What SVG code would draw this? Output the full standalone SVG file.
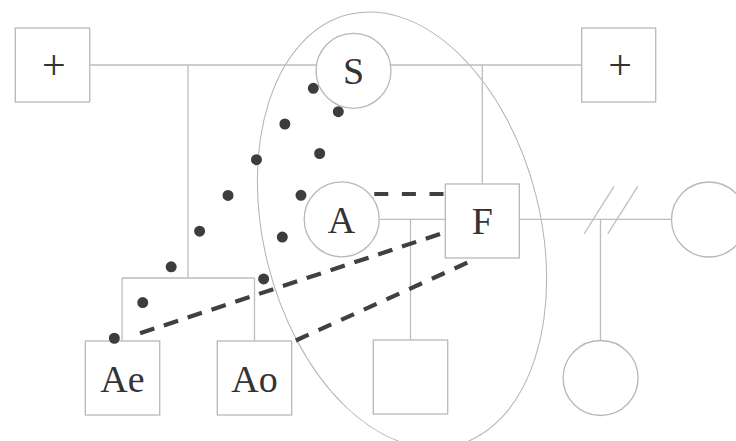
<svg xmlns="http://www.w3.org/2000/svg" width="736" height="441" viewBox="0 0 736 441">
  <style>
    .shape { fill: #ffffff; stroke: #b8b8b8; stroke-width: 1.3; }
    .line { fill: none; stroke: #bdbdbd; stroke-width: 1.3; }
    .group-ring { fill: none; stroke: #b3b3b3; stroke-width: 1; }
    .lbl { font-family: "Liberation Serif", "Times New Roman", serif; font-size: 38px; fill: #333333; text-anchor: middle; }
    .plus { font-family: "Liberation Serif", "Times New Roman", serif; font-size: 42px; fill: #333333; text-anchor: middle; }
    .dots { fill: none; stroke: #3d3d3d; stroke-width: 11; stroke-linecap: round; }
    .dash { fill: none; stroke: #404040; stroke-width: 4.2; }
  </style>
  <rect width="736" height="441" fill="#ffffff"/>

  <g id="nodes">
    <g id="ring"><ellipse class="group-ring" cx="402" cy="230" rx="138.4" ry="222" transform="rotate(-14 402 230)"/></g>
    <g id="n-plus-left"><rect class="shape" x="15.3" y="28" width="74.4" height="74"/><text class="plus" x="53.8" y="79">+</text></g>
    <g id="n-plus-right"><rect class="shape" x="581.7" y="28" width="74" height="74"/><text class="plus" x="620" y="79">+</text></g>
    <g id="n-S"><circle class="shape" cx="353.5" cy="70.8" r="37.5"/><text class="lbl" x="353.5" y="84">S</text></g>
    <g id="n-A"><circle class="shape" cx="341.7" cy="219.3" r="37.5"/><text class="lbl" x="341.5" y="232.7">A</text></g>
    <g id="n-F"><rect class="shape" x="445.3" y="184" width="74" height="74"/><text class="lbl" x="482.3" y="234">F</text></g>
    <g id="n-partner"><circle class="shape" cx="709" cy="219.5" r="37.5"/></g>
    <g id="n-son"><rect class="shape" x="373.3" y="340" width="74.4" height="74"/></g>
    <g id="n-daughter"><circle class="shape" cx="600.6" cy="378" r="37.5"/></g>
    <g id="n-Ae"><rect class="shape" x="85.3" y="341" width="74.4" height="74"/><text class="lbl" x="122.5" y="391.7">Ae</text></g>
    <g id="n-Ao"><rect class="shape" x="217.3" y="341" width="74.4" height="74"/><text class="lbl" x="254.5" y="391.7">Ao</text></g>
  </g>

  <g id="connectors">
    <line class="line" x1="89.7" y1="65" x2="316.4" y2="65"/>
    <line class="line" x1="188" y1="65" x2="188" y2="278"/>
    <line class="line" x1="122" y1="278" x2="254.5" y2="278"/>
    <line class="line" x1="122" y1="278" x2="122" y2="341"/>
    <line class="line" x1="254.5" y1="278" x2="254.5" y2="341"/>
    <line class="line" x1="390.6" y1="65" x2="581.7" y2="65"/>
    <line class="line" x1="482.3" y1="65" x2="482.3" y2="184"/>
    <line class="line" x1="379.2" y1="219.3" x2="445.3" y2="219.3"/>
    <line class="line" x1="410.5" y1="219.3" x2="410.5" y2="340"/>
    <line class="line" x1="519.3" y1="219.3" x2="671.5" y2="219.3"/>
    <line class="line" x1="600.5" y1="219.3" x2="600.5" y2="340.5"/>
    <line class="line" x1="614" y1="186.3" x2="584" y2="234"/>
    <line class="line" x1="637.7" y1="186.3" x2="607.7" y2="234"/>

    <line class="dots" x1="313.3" y1="88.3" x2="114.3" y2="338.3" stroke-dasharray="0 45.64"/>
    <line class="dots" x1="338.3" y1="111.7" x2="245" y2="320.7" stroke-dasharray="0 45.78"/>

    <line class="dash" x1="374.3" y1="194" x2="443.5" y2="194" stroke-dasharray="14 13.6"/>
    <line class="dash" x1="440" y1="234" x2="140" y2="333.3" stroke-dasharray="15 10.08"/>
    <line class="dash" x1="467.3" y1="262.7" x2="295.8" y2="340.5" stroke-dasharray="14 10.9"/>
  </g>
</svg>
